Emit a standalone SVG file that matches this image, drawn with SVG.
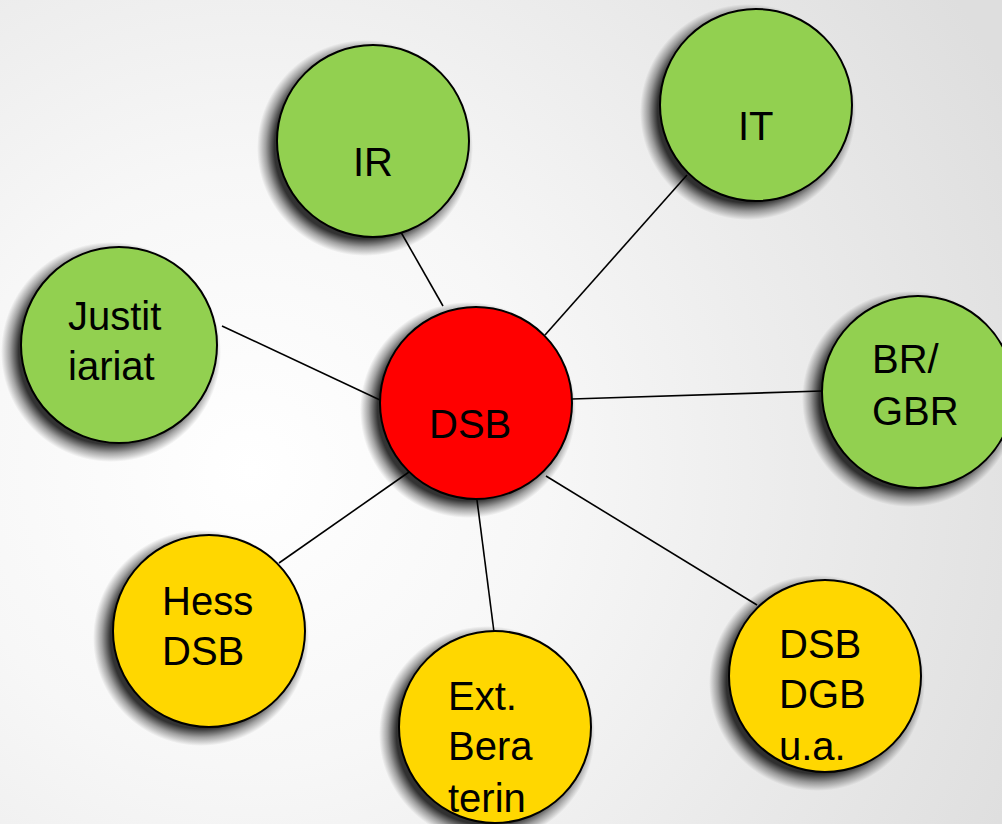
<svg xmlns="http://www.w3.org/2000/svg" width="1002" height="824" viewBox="0 0 1002 824">
<defs>
<radialGradient id="bg" cx="250" cy="470" r="850" gradientUnits="userSpaceOnUse">
<stop offset="0" stop-color="#ffffff"/>
<stop offset="0.35" stop-color="#f7f7f7"/>
<stop offset="1" stop-color="#dedede"/>
</radialGradient>
<radialGradient id="shg" cx="0.5" cy="0.5" r="0.5">
<stop offset="0.84" stop-color="#000" stop-opacity="0.8"/>
<stop offset="0.92" stop-color="#000" stop-opacity="0.35"/>
<stop offset="1" stop-color="#000" stop-opacity="0"/>
</radialGradient>
</defs>
<style>
.n{stroke:#000;stroke-width:2}
.s{fill:url(#shg)}
.g{fill:#92d050}
.r{fill:#ff0000}
.y{fill:#ffd700}
.t{font-family:"Liberation Sans",Arial,sans-serif;font-size:40px;fill:#000}
.c line{stroke:#000;stroke-width:1.6}
</style>
<rect width="1002" height="824" fill="url(#bg)"/>
<g class="c" id="connectors">
<line x1="398" y1="227" x2="443" y2="306"/>
<line x1="687" y1="175" x2="545" y2="335"/>
<line x1="222" y1="326" x2="380" y2="400"/>
<line x1="572" y1="399" x2="822" y2="391"/>
<line x1="279" y1="563" x2="409" y2="472"/>
<line x1="477" y1="500" x2="494" y2="632"/>
<line x1="546" y1="476" x2="757" y2="605"/>
</g>
<g id="node-ir"><circle class="s" cx="365" cy="148" r="108"/><circle class="n g" cx="373" cy="141" r="96"/><text class="t" x="353" y="176">IR</text></g>
<g id="node-it"><circle class="s" cx="748" cy="112" r="108"/><circle class="n g" cx="756" cy="105" r="96"/><text class="t" x="738" y="140">IT</text></g>
<g id="node-justitiariat"><circle class="s" cx="111" cy="352" r="110"/><circle class="n g" cx="119" cy="345" r="98"/><text class="t" x="68" y="330">Justit</text><text class="t" x="68" y="380">iariat</text></g>
<g id="node-brgbr"><circle class="s" cx="910" cy="399" r="108"/><circle class="n g" cx="918" cy="392" r="96"/><text class="t" x="872" y="373">BR/</text><text class="t" x="872" y="425">GBR</text></g>
<g id="node-dsb"><circle class="s" cx="468" cy="410" r="108"/><circle class="n r" cx="476" cy="403" r="96"/><text class="t" x="429" y="438">DSB</text></g>
<g id="node-hess"><circle class="s" cx="201" cy="638" r="108"/><circle class="n y" cx="209" cy="631" r="96"/><text class="t" x="162" y="615">Hess</text><text class="t" x="162" y="665">DSB</text></g>
<g id="node-ext"><circle class="s" cx="487" cy="734" r="108"/><circle class="n y" cx="495" cy="727" r="96"/><text class="t" x="448" y="710">Ext.</text><text class="t" x="448" y="760">Bera</text><text class="t" x="448" y="812">terin</text></g>
<g id="node-dsbdgb"><circle class="s" cx="817" cy="683" r="108"/><circle class="n y" cx="825" cy="676" r="96"/><text class="t" x="779" y="658">DSB</text><text class="t" x="779" y="708">DGB</text><text class="t" x="779" y="760">u.a.</text></g>
</svg>
